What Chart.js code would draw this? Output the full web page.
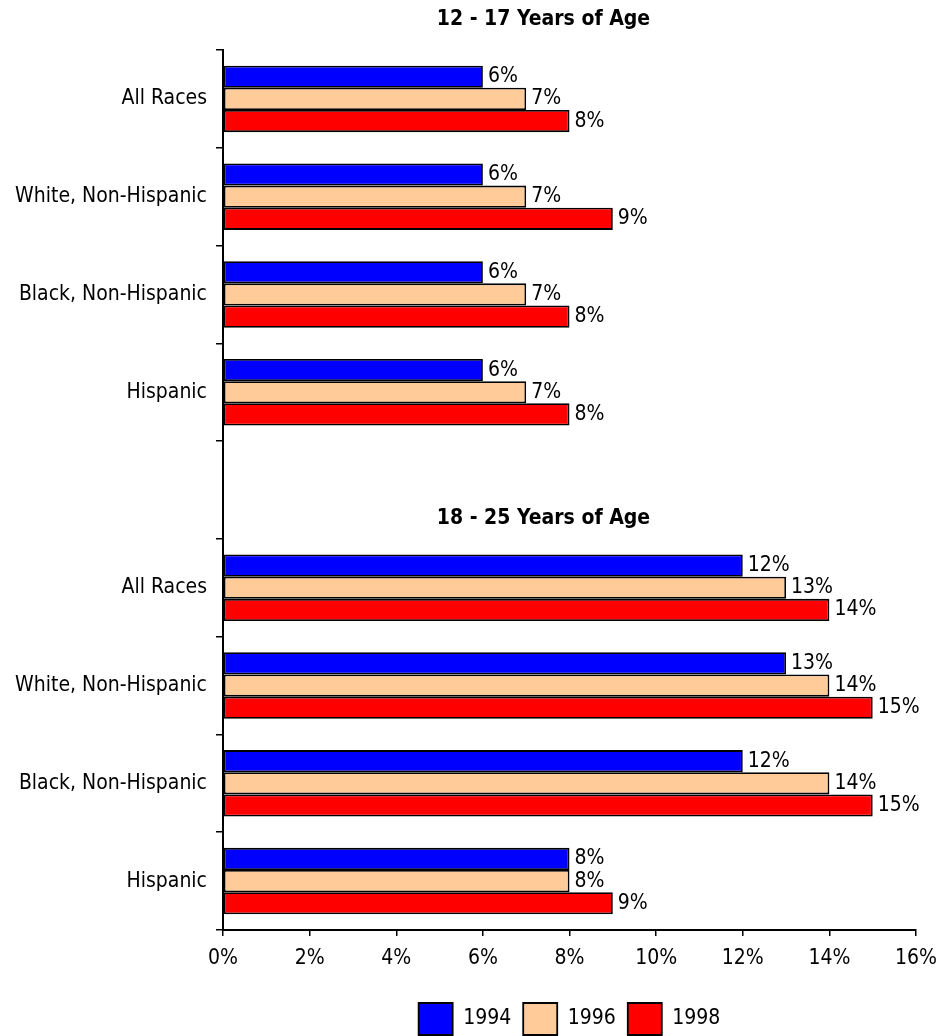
<!DOCTYPE html>
<html>
<head>
<meta charset="utf-8">
<script src="https://cdn.jsdelivr.net/npm/chart.js@4/dist/chart.umd.min.js"></script>
<style>
  html, body { margin: 0; padding: 0; background: #fff; }
  #wrap { width: 942px; height: 1036px; position: relative; }
</style>
</head>
<body>
<div id="wrap"><canvas id="c"></canvas></div>
<script>
// Race / ethnicity groups, two age bands separated by an empty row
const categories = [
  'All Races', 'White, Non-Hispanic', 'Black, Non-Hispanic', 'Hispanic',
  '',
  'All Races', 'White, Non-Hispanic', 'Black, Non-Hispanic', 'Hispanic'
];
const years = ['1994', '1996', '1998'];
const values1994 = [6, 6, 6, 6, null, 12, 13, 12, 8];
const values1996 = [7, 7, 7, 7, null, 13, 14, 14, 8];
const values1998 = [8, 9, 8, 8, null, 14, 15, 15, 9];
const xTickValues = [0, 2, 4, 6, 8, 10, 12, 14, 16];
const groupTitles = ['12 - 17 Years of Age', '18 - 25 Years of Age'];
const groupStartIndex = [0, 5];

const FONT = '"DejaVu Sans Condensed", "DejaVu Sans", sans-serif';
const FONT_SIZE = 21;
const colors = ['#0000FF', '#FFCC99', '#FF0000'];

// Value labels at the end of each bar, plus the two age-band headings
const annotate = {
  id: 'annotate',
  afterDatasetsDraw(chart) {
    const ctx = chart.ctx;
    ctx.save();
    ctx.fillStyle = '#000';
    ctx.font = FONT_SIZE + 'px ' + FONT;
    ctx.textAlign = 'left';
    ctx.textBaseline = 'middle';
    chart.data.datasets.forEach((ds, di) => {
      const meta = chart.getDatasetMeta(di);
      meta.data.forEach((el, i) => {
        const v = ds.data[i];
        if (v === null || v === undefined) return;
        ctx.fillText(v + '%', el.x + 5, el.y);
      });
    });
    // headings a little left of the plot-area centre
    const area = chart.chartArea;
    const yScale = chart.scales.y;
    const cx = (area.left + area.right) / 2 - 26;
    const step = yScale.getPixelForValue(1) - yScale.getPixelForValue(0);
    ctx.font = 'bold ' + FONT_SIZE + 'px ' + FONT;
    ctx.textAlign = 'center';
    groupTitles.forEach((t, k) => {
      const top = yScale.getPixelForValue(groupStartIndex[k]) - step / 2;
      ctx.fillText(t, cx, k === 0 ? top - 30 : top - 20);
    });
    ctx.restore();
  }
};

const mkDataset = (label, data, color) => ({
  label, data,
  backgroundColor: color,
  borderColor: '#000',
  borderWidth: 1.8,
  borderSkipped: false,
  barPercentage: 1.0,
  categoryPercentage: 0.68
});

new Chart(document.getElementById('c'), {
  type: 'bar',
  data: {
    labels: categories,
    datasets: [
      mkDataset(years[0], values1994, colors[0]),
      mkDataset(years[1], values1996, colors[1]),
      mkDataset(years[2], values1998, colors[2])
    ]
  },
  options: {
    indexAxis: 'y',
    responsive: true,
    maintainAspectRatio: false,
    animation: false,
    layout: { padding: { top: 50, right: 26, bottom: -9, left: 0 } },
    plugins: {
      title: { display: false },
      tooltip: { enabled: false },
      legend: {
        display: true,
        position: 'bottom',
        fullSize: false,
        labels: {
          boxWidth: 34,
          boxHeight: 32,
          padding: 12,
          color: '#000',
          font: { family: FONT, size: FONT_SIZE },
          generateLabels(chart) {
            return chart.data.datasets.map((ds, i) => ({
              text: ds.label,
              fillStyle: ds.backgroundColor,
              strokeStyle: '#000',
              lineWidth: 1.8,
              datasetIndex: i,
              fontColor: '#000'
            }));
          }
        }
      }
    },
    scales: {
      x: {
        min: 0,
        max: 16,
        afterBuildTicks(scale) {
          scale.ticks = xTickValues.map(v => ({ value: v }));
        },
        afterFit(scale) {
          scale.height = 61;
          scale.paddingLeft = 0;
          scale.paddingRight = 0;
        },
        grid: {
          display: true,
          drawOnChartArea: false,
          drawTicks: true,
          tickLength: 6,
          color: '#000',
          lineWidth: 1.5
        },
        border: { display: true, color: '#000', width: 2 },
        ticks: {
          color: '#000',
          padding: 10,
          font: { family: FONT, size: FONT_SIZE },
          callback: v => v + '%'
        }
      },
      y: {
        afterFit(scale) { scale.width = 223; },
        grid: {
          display: true,
          offset: true,
          drawOnChartArea: false,
          drawTicks: true,
          tickLength: 7,
          color: '#000',
          lineWidth: 1.5
        },
        border: { display: true, color: '#000', width: 2 },
        ticks: {
          color: '#000',
          padding: 9,
          autoSkip: false,
          font: { family: FONT, size: FONT_SIZE }
        }
      }
    }
  },
  plugins: [annotate]
});
</script>
</body>
</html>
